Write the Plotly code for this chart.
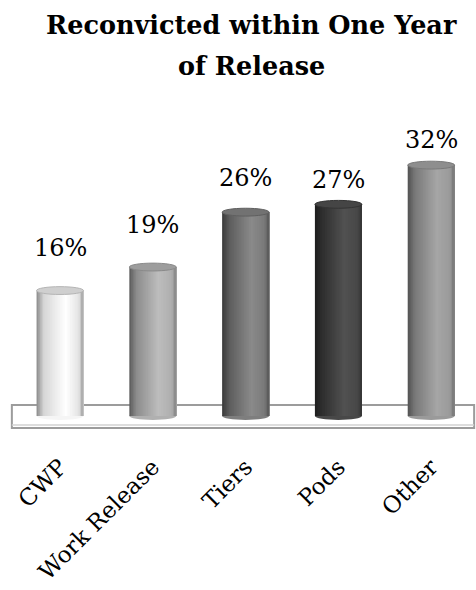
import plotly.graph_objects as go

# Data
categories = ["CWP", "Work Release", "Tiers", "Pods", "Other"]
rates = [16, 19, 26, 27, 32]  # percent reconvicted within one year
title_lines = ["Reconvicted within One Year", "of Release"]

# Cylinder shading: colour stops across each bar (left -> right)
shade_stops = [0.0, 0.15, 0.62, 0.9, 1.0]
shades = [
    ["#8a8a8a", "#d6d6d6", "#ffffff", "#e4e4e4", "#a4a4a4"],
    ["#5a5a5a", "#8c8c8c", "#bdbdbd", "#afafaf", "#858585"],
    ["#3a3a3a", "#5c5c5c", "#8a8a8a", "#7a7a7a", "#575757"],
    ["#1c1c1c", "#2e2e2e", "#515151", "#484848", "#333333"],
    ["#515151", "#787878", "#a6a6a6", "#9a9a9a", "#777777"],
]
cap_colors = ["#cfcfcf", "#9d9d9d", "#727272", "#454545", "#8e8e8e"]
cap_lines = ["#b5b5b5", "#8a8a8a", "#5f5f5f", "#333333", "#7a7a7a"]
label_shift = [43, 42, 34, 24, 25]  # px above the top of each cylinder

BAR_W = 0.506
N_SLICES = 28
CAP_H = 0.5
SERIF = "DejaVu Serif"

# plot area geometry (px)
M_L, M_R, M_T, M_B = 10, 0, 110, 160
PLOT_H = 590 - M_T - M_B


def hex_to_rgb(h):
    h = h.lstrip("#")
    return [int(h[i:i + 2], 16) for i in (0, 2, 4)]


def shade_at(stops_cols, t):
    for j in range(len(shade_stops) - 1):
        a, b = shade_stops[j], shade_stops[j + 1]
        if a <= t <= b:
            f = (t - a) / (b - a) if b > a else 0
            c0, c1 = hex_to_rgb(stops_cols[j]), hex_to_rgb(stops_cols[j + 1])
            rgb = [round(c0[k] + (c1[k] - c0[k]) * f) for k in range(3)]
            return "rgb({},{},{})".format(*rgb)
    return stops_cols[-1]


def paper_y(px):
    return (590 - M_B - px) / PLOT_H


fig = go.Figure()

# Each slice starts further right and runs to the right edge, so the
# overlapping slices build up a horizontal gradient without seams.
for k in range(N_SLICES):
    t = (k + 0.5) / N_SLICES
    start = -BAR_W / 2 + k * BAR_W / N_SLICES
    fig.add_trace(go.Bar(
        x=categories,
        y=rates,
        offset=start,
        width=BAR_W - k * BAR_W / N_SLICES,
        marker=dict(color=[shade_at(s, t) for s in shades], line=dict(width=0)),
        showlegend=False,
        hoverinfo="skip",
    ))

shapes = []
# floor platform
shapes.append(dict(type="rect", xref="paper", yref="y", x0=0.004, x1=0.996,
                   y0=-1.53, y1=1.4, line=dict(color="#9c9c9c", width=2),
                   fillcolor="rgba(255,255,255,0)", layer="below"))
shapes.append(dict(type="line", xref="paper", yref="y", x0=0.004, x1=0.996,
                   y0=-1.15, y1=-1.15, line=dict(color="#d2d2d2", width=1.5),
                   layer="below"))

for i, v in enumerate(rates):
    # rounded base of the cylinder
    shapes.append(dict(type="circle", xref="x", yref="y",
                       x0=i - BAR_W / 2, x1=i + BAR_W / 2, y0=-CAP_H, y1=CAP_H,
                       fillcolor=shade_at(shades[i], 0.5), line=dict(width=0),
                       layer="below"))
    # top face of the cylinder
    shapes.append(dict(type="circle", xref="x", yref="y",
                       x0=i - BAR_W / 2, x1=i + BAR_W / 2, y0=v - CAP_H, y1=v + CAP_H,
                       fillcolor=cap_colors[i], line=dict(color=cap_lines[i], width=1),
                       layer="above"))

annotations = []
for i, v in enumerate(rates):
    annotations.append(dict(x=categories[i], y=v, xref="x", yref="y",
                            text=f"{v}%", showarrow=False, yanchor="middle",
                            yshift=label_shift[i],
                            font=dict(family=SERIF, size=24, color="#000000")))

# two-line title, set with wider leading
for line, px in zip(title_lines, [25, 66]):
    annotations.append(dict(x=(251 - M_L) / (476 - M_L - M_R), y=paper_y(px),
                            xref="paper", yref="paper", text=f"<b>{line}</b>",
                            showarrow=False, xanchor="center", yanchor="middle",
                            font=dict(family=SERIF, size=25.5, color="#000000")))

fig.update_layout(
    width=476, height=590,
    margin=dict(l=M_L, r=M_R, t=M_T, b=M_B),
    paper_bgcolor="white", plot_bgcolor="white",
    barmode="overlay",
    shapes=shapes,
    annotations=annotations,
    xaxis=dict(range=[-0.539, 4.483], showgrid=False, zeroline=False,
               showline=False, ticks="", tickangle=-45, ticklabelstandoff=18,
               tickfont=dict(family=SERIF, size=23, color="#000000")),
    yaxis=dict(range=[-1.786, 39.03], showgrid=False, zeroline=False,
               showline=False, showticklabels=False, ticks=""),
)

fig.write_html("out.html")
